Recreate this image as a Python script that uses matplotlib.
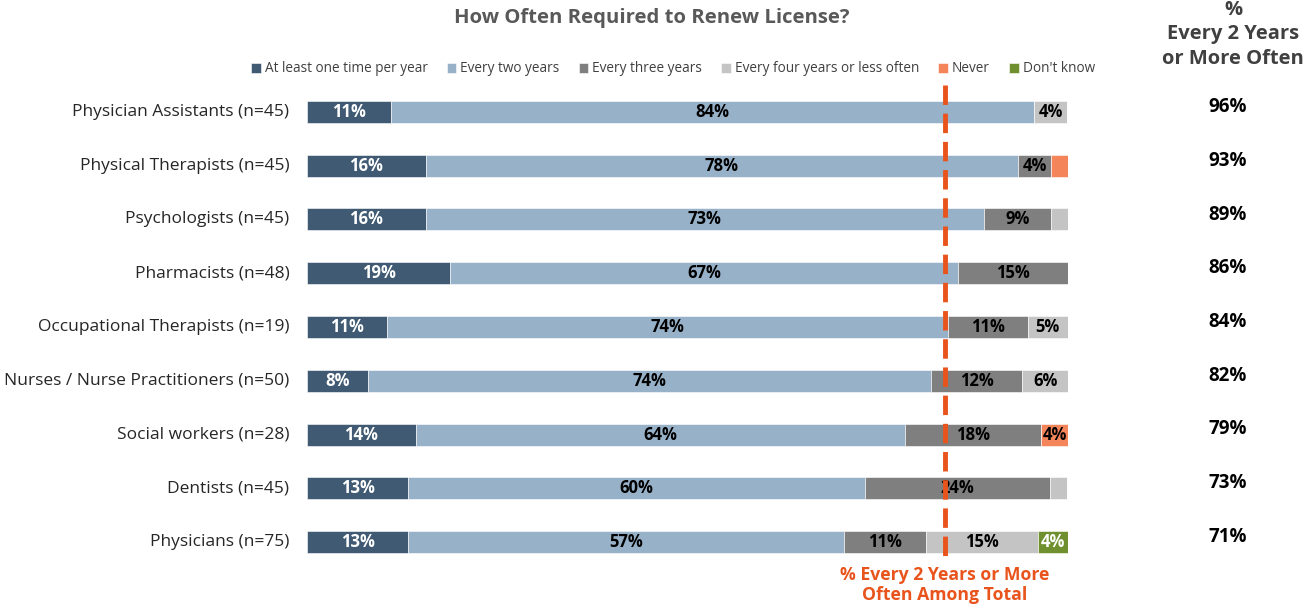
import matplotlib
matplotlib.use('Agg')
import matplotlib.pyplot as plt
import numpy as np

plt.rcParams['font.family'] = ['Open Sans', 'DejaVu Sans']

categories = ['Physician Assistants (n=45)', 'Physical Therapists (n=45)', 'Psychologists (n=45)',
              'Pharmacists (n=48)', 'Occupational Therapists (n=19)', 'Nurses / Nurse Practitioners (n=50)',
              'Social workers (n=28)', 'Dentists (n=45)', 'Physicians (n=75)']
series = ['At least one time per year', 'Every two years', 'Every three years',
          'Every four years or less often', 'Never', "Don't know"]
colors = ['#3F5A72', '#97B1C8', '#7F7F7F', '#C4C4C4', '#F4855A', '#70902F']
text_colors = ['white', 'black', 'black', 'black', 'black', 'white']

once_year = [11.1, 15.6, 15.6, 18.8, 10.5, 8.0, 14.3, 13.3, 13.3]
two_years = [84.4, 77.8, 73.3, 66.7, 73.7, 74.0, 64.3, 60.0, 57.3]
three_years = [0.0, 4.4, 8.9, 14.6, 10.5, 12.0, 17.9, 24.4, 10.7]
four_years = [4.4, 0.0, 2.2, 0.0, 5.3, 6.0, 0.0, 2.2, 14.7]
never = [0.0, 2.2, 0.0, 0.0, 0.0, 0.0, 3.6, 0.0, 0.0]
dont_know = [0.0, 0.0, 0.0, 0.0, 0.0, 0.0, 0.0, 0.0, 4.0]
every2_or_more = [96, 93, 89, 86, 84, 82, 79, 73, 71]
total_line = 83.8

data = [once_year, two_years, three_years, four_years, never, dont_know]

fig = plt.figure(figsize=(13.07, 6.07), dpi=100)
ax = fig.add_axes([307 / 1307, 1 - 569 / 607, 761 / 1307, 484 / 607])

y = np.arange(len(categories))
left = np.zeros(len(categories))
handles = []
for i, vals in enumerate(data):
    vals = np.array(vals)
    b = ax.barh(y, vals, left=left, height=0.41, color=colors[i], edgecolor='white', linewidth=0.4)
    handles.append(b)
    for j, v in enumerate(vals):
        if v >= 3:
            ax.text(left[j] + v / 2, y[j], '%d%%' % int(v + 0.5), ha='center', va='center',
                    fontsize=12, fontweight='bold', color=text_colors[i])
    left += vals

ax.set_xlim(0, 100)
ax.set_ylim(8.5, -0.5)
ax.axis('off')

for j, c in enumerate(categories):
    ax.text(-2.3, y[j], c, ha='right', va='center', fontsize=12.5, color='#262626')

ax.plot([total_line, total_line], [-0.5, 8.25], color='#E8541C', linewidth=3.5,
        linestyle=(0, (4, 1.8)), zorder=5)

for j, v in enumerate(every2_or_more):
    fig.text(1228 / 1307, 1 - (112 + j * 53.75 - 5) / 607, '%d%%' % v, ha='center', va='center',
             fontsize=13.5, fontweight='bold', color='black')

hdr = dict(ha='center', va='center', fontsize=14.5, fontweight='bold', color='#404040')
fig.text(1233 / 1307, 1 - 10 / 607, '%', **hdr)
fig.text(1233 / 1307, 1 - 34 / 607, 'Every 2 Years', **hdr)
fig.text(1233 / 1307, 1 - 59 / 607, 'or More Often', **hdr)

fig.text(652 / 1307, 1 - 18 / 607, 'How Often Required to Renew License?', ha='center', va='center',
         fontsize=14.6, fontweight='bold', color='#595959')

fig.text(945 / 1307, 1 - 585 / 607, '% Every 2 Years or More\nOften Among Total', ha='center',
         va='center', fontsize=12.7, fontweight='bold', color='#E8541C', linespacing=1.15)

fig.legend(handles, series, loc='center', bbox_to_anchor=(673 / 1307, 1 - 69 / 607), ncol=6,
           frameon=False, fontsize=9.8, handlelength=0.7, handleheight=0.7, handletextpad=0.3,
           columnspacing=1.4, labelcolor='#404040')

fig.savefig('out.png', dpi=100)
